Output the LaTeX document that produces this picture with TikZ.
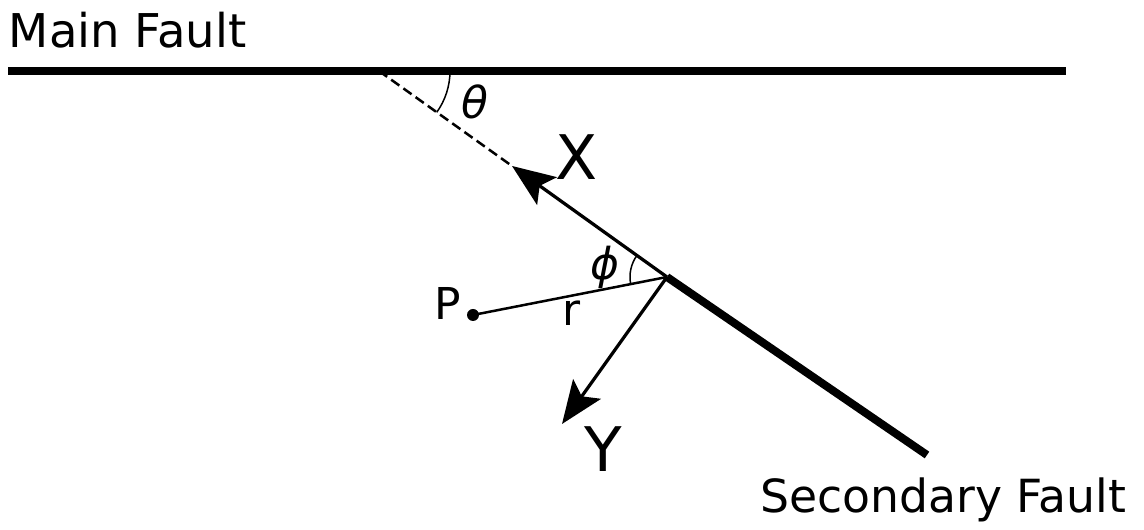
\documentclass[tikz,border=0pt]{standalone}
\usepackage{fontspec}
\setmainfont{DejaVu Sans}
\usetikzlibrary{arrows.meta}

\tikzset{
	fault/.style={line width=0.16cm},
	axis/.style={line width=0.065cm, -{Stealth[length=0.86cm, width=0.68cm, inset=0.18cm]}},
	angarc/.style={line width=0.03cm},
	lbl/.style={inner sep=0, font=\fontsize{25}{30}\selectfont},
	biglbl/.style={inner sep=0, font=\fontsize{35}{42}\selectfont}
}

\begin{document}
\begin{tikzpicture}[x=0.02cm, y=0.02cm]
		\useasboundingbox (0,0) rectangle (1144,530);
		
		% Points
		\coordinate (O) at (667,253);
		\coordinate (D) at (379,459);
		\coordinate (Xt) at (512,364);
		\coordinate (Yt) at (562,106);
		\coordinate (Se) at (927,75);
		\coordinate (ML) at (8,459);
		\coordinate (MR) at (1066,459);
		
		% Faults
		\draw[fault] (ML) -- (MR);
		\draw[fault] (O) -- (Se);
		\node[lbl, font=\fontsize{26.5}{32}\selectfont, anchor=base west] (mainlbl) at (8.5,482) {Main Fault};
		\node[lbl, font=\fontsize{26}{31}\selectfont, anchor=base west] (seclbl) at (760,17) {Secondary Fault};
		
		% Local axes
		\draw[line width=0.05cm, dash pattern=on 0.2cm off 0.1cm] (D) -- (Xt);
		\draw[axis] (O) -- (Xt);
		\draw[axis] (O) -- (Yt);
		\node[biglbl] (xlbl) at (577,372.5) {X};
		\node[biglbl] (ylbl) at (603,80.5) {Y};
		
		% Point P
		\fill (473,215) circle (6) coordinate (P);
		\draw[line width=0.05cm] (P) -- (O);
		\node[lbl] (plbl) at (448,227) {P};
		\node[lbl] (rlbl) at (572,217) {r};
		
		% Angles
		\draw[angarc] (D) ++(71,0) arc[start angle=0, end angle=-35.6, radius=71];
		\node[lbl] (thlbl) at (475,428) {\textit{θ}};
		\draw[angarc] (O) ++(144.4:37) arc[start angle=144.4, end angle=191.1, radius=37];
		\node[lbl] (philbl) at (605,263) {\textit{ϕ}};
	\end{tikzpicture}
\end{document}
